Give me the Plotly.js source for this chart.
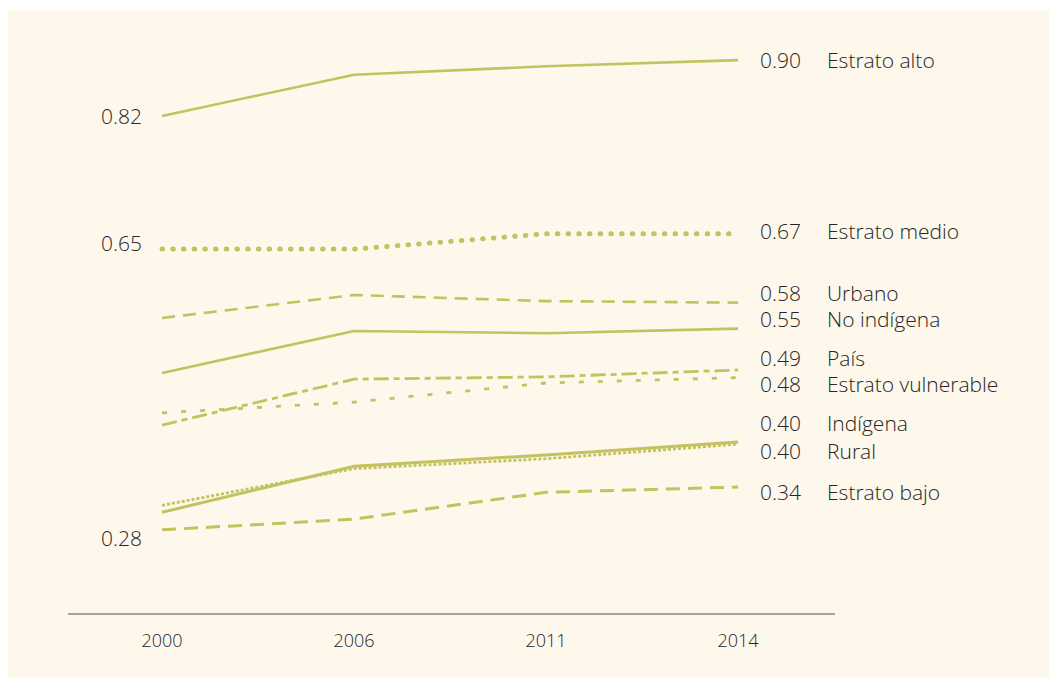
<!DOCTYPE html>
<html>
<head>
<meta charset="utf-8">
<script src="https://cdn.plot.ly/plotly-3.0.1.min.js"></script>
<style>
  html, body { margin: 0; padding: 0; background: #ffffff; }
  #bg { position: absolute; left: 8px; top: 10px; width: 1041px; height: 667px; background: #fdf7ec; }
  #chart { position: absolute; left: 0; top: 0; width: 1050px; height: 677px; }
  .scatterlayer .trace:nth-child(2) .js-line { stroke-linecap: round !important; }
</style>
</head>
<body>
<div id="bg"></div>
<div id="chart"></div>
<script>
const years = ['2000', '2006', '2011', '2014'];

const seriesNames = ['Estrato alto', 'Estrato medio', 'Urbano', 'No indígena', 'País',
  'Estrato vulnerable', 'Indígena', 'Rural', 'Estrato bajo'];

const estratoAlto       = [0.820, 0.874, 0.885, 0.893];
const estratoMedio      = [0.646, 0.646, 0.666, 0.666];
const urbano            = [0.556, 0.586, 0.578, 0.576];
const noIndigena        = [0.484, 0.539, 0.536, 0.542];
const pais              = [0.416, 0.476, 0.479, 0.488];
const estratoVulnerable = [0.432, 0.446, 0.471, 0.478];
const indigena          = [0.302, 0.362, 0.377, 0.394];
const rural             = [0.311, 0.359, 0.372, 0.391];
const estratoBajo       = [0.279, 0.293, 0.328, 0.335];

const endLabels   = ['0.90', '0.67', '0.58', '0.55', '0.49', '0.48', '0.40', '0.40', '0.34'];
const startLabels = ['0.82', '0.65', '', '', '', '', '', '', '0.28'];

const allSeries = [estratoAlto, estratoMedio, urbano, noIndigena, pais,
  estratoVulnerable, indigena, rural, estratoBajo];

// styling (not data)
const lineColor = '#c3c25f';
const styles = [
  { width: 2.6, dash: 'solid' },
  { width: 5.0, dash: '0.5px,10.2px' },
  { width: 2.6, dash: '13px,8px' },
  { width: 2.6, dash: 'solid' },
  { width: 2.8, dash: '15px,5px,6px,5px' },
  { width: 2.8, dash: '5px,14px' },
  { width: 3.0, dash: 'solid' },
  { width: 2.8, dash: '3px,2px' },
  { width: 3.0, dash: '14px,8px' }
];
const endShift   = [0, 3, 10, 10, 12, -6, 19, -7, -5];
const startShift = [0, 6, 0, 0, 0, 0, 0, 0, -8];

const traces = allSeries.map((vals, i) => ({
  x: years,
  y: vals,
  type: 'scatter',
  mode: 'lines',
  name: seriesNames[i],
  line: { color: lineColor, width: styles[i].width, dash: styles[i].dash },
  hoverinfo: 'skip'
}));

const font = '"Open Sans", Lato, sans-serif';
const labelFont = { family: font, size: 21, color: '#262626', weight: 300 };
const lastIdx = years.length - 1;
const annotations = [];
allSeries.forEach((vals, i) => {
  const last = vals[lastIdx];
  annotations.push({
    x: lastIdx, y: last, xref: 'x', yref: 'y',
    text: endLabels[i], showarrow: false, xanchor: 'left', yanchor: 'middle',
    xshift: 20, yshift: endShift[i], font: labelFont
  });
  annotations.push({
    x: lastIdx, y: last, xref: 'x', yref: 'y',
    text: seriesNames[i], showarrow: false, xanchor: 'left', yanchor: 'middle',
    xshift: 87, yshift: endShift[i], font: labelFont
  });
  if (startLabels[i]) {
    annotations.push({
      x: 0, y: vals[0], xref: 'x', yref: 'y',
      text: startLabels[i], showarrow: false, xanchor: 'right', yanchor: 'middle',
      xshift: -18, yshift: startShift[i], font: labelFont
    });
  }
});

const layout = {
  width: 1050, height: 677,
  paper_bgcolor: 'rgba(0,0,0,0)',
  plot_bgcolor: 'rgba(0,0,0,0)',
  margin: { l: 68, r: 215, t: 20, b: 64 },
  showlegend: false,
  xaxis: {
    type: 'category',
    range: [-0.49, 3.505],
    showgrid: false, zeroline: false,
    showline: true, linecolor: '#a3a3a0', linewidth: 1.5,
    ticks: '', ticklabelstandoff: 11,
    tickfont: { family: font, size: 18, color: '#262626', weight: 300 }
  },
  yaxis: {
    range: [0.1703, 0.9455],
    showgrid: false, zeroline: false, showline: false,
    showticklabels: false, ticks: ''
  },
  annotations: annotations
};

Plotly.newPlot('chart', traces, layout, { displayModeBar: false, staticPlot: true });
</script>
</body>
</html>
